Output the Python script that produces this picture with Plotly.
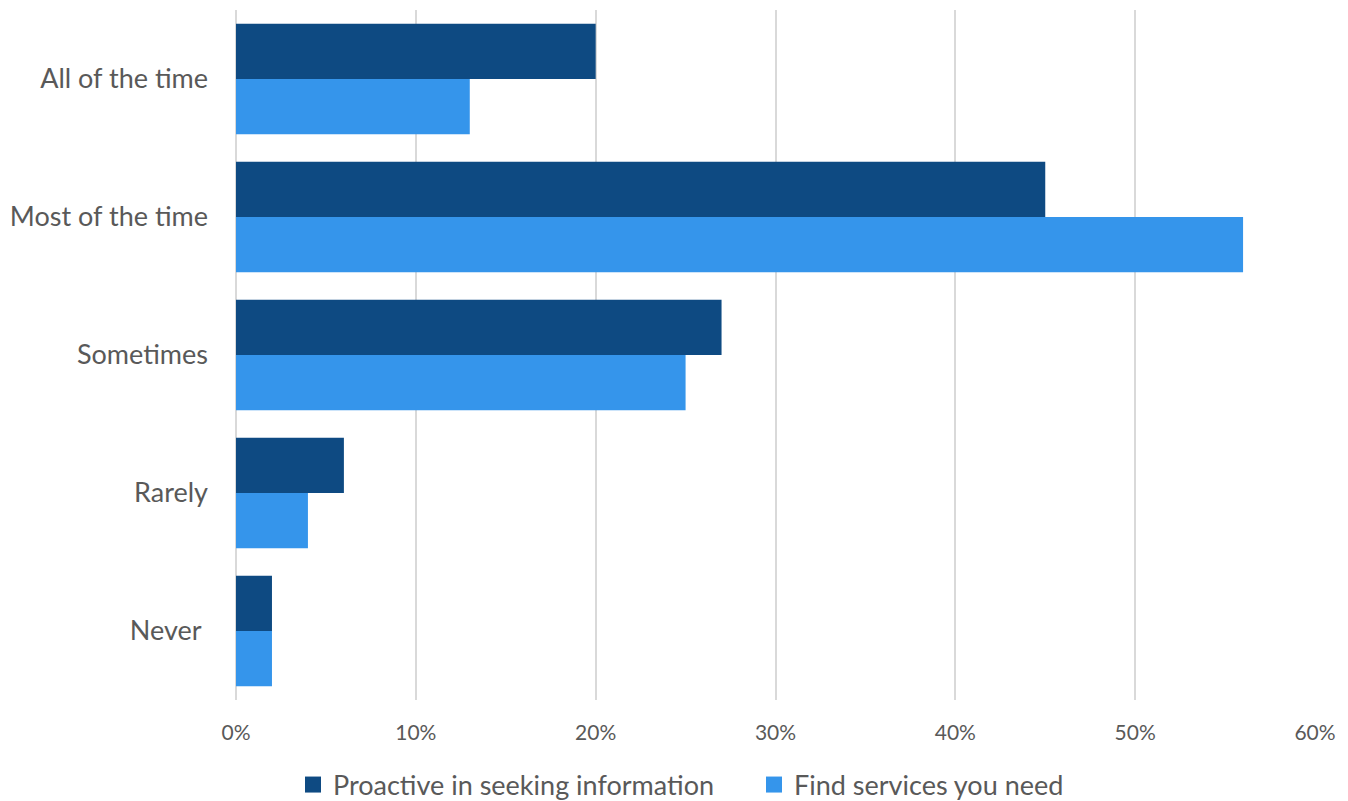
import plotly.graph_objects as go

categories = ["All of the time", "Most of the time", "Sometimes", "Rarely", "Never\u00a0"]
proactive = [20, 45, 27, 6, 2]
find_services = [13, 56, 25, 4, 2]
x_ticks = [0, 10, 20, 30, 40, 50, 60]
x_tick_labels = ["0%", "10%", "20%", "30%", "40%", "50%", "60%"]
series_names = ["Proactive in seeking information", "Find services you need"]
series_colors = ["#0E4A82", "#3595EB"]

FONT = "Lato"
GREY = "#595959"
W, H = 1340, 793

fig = go.Figure()
for name, vals, col in zip(series_names, [proactive, find_services], series_colors):
    fig.add_trace(go.Bar(y=categories, x=vals, orientation="h", name=name,
                         marker=dict(color=col, line=dict(width=0)),
                         showlegend=False, legendgroup=name))
# legend entries with larger square swatches
for name, col in zip(series_names, series_colors):
    fig.add_trace(go.Scatter(x=[None], y=[None], mode="markers", name=name,
                             marker=dict(symbol="square", size=16, color=col),
                             legendgroup=name, showlegend=True))

fig.update_layout(
    width=W, height=H,
    margin=dict(l=228, r=33, t=2, b=101, autoexpand=False),
    barmode="group", bargap=0.2, bargroupgap=0,
    plot_bgcolor="white", paper_bgcolor="white",
    font=dict(family=FONT, color=GREY),
    showlegend=True,
    legend=dict(orientation="h", xref="container", yref="container",
                x=285 / W, xanchor="left", y=16 / H, yanchor="middle",
                font=dict(size=27, color=GREY, family=FONT), traceorder="normal",
                entrywidth=416, entrywidthmode="pixels", itemsizing="trace"),
    xaxis=dict(range=[0, 60], tickvals=x_ticks, ticktext=x_tick_labels,
               showgrid=True, gridcolor="#D9D9D9", gridwidth=1.5,
               zeroline=True, zerolinecolor="#D9D9D9", zerolinewidth=1.5,
               showline=False, ticks="", tickfont=dict(size=21, color=GREY),
               ticklabelstandoff=18, fixedrange=True, automargin=False),
    yaxis=dict(autorange="reversed", showgrid=False, zeroline=False, showline=False,
               ticks="", tickfont=dict(size=27, color=GREY), ticklabelstandoff=27,
               fixedrange=True, automargin=False),
)

fig.write_html("out.html")
